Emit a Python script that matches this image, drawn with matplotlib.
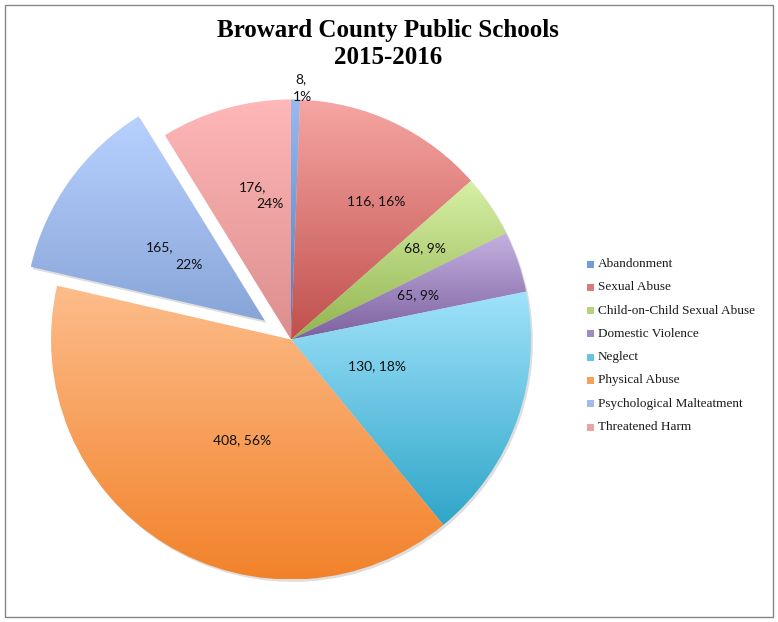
import numpy as np
import matplotlib
matplotlib.use("Agg")
import matplotlib.pyplot as plt
from matplotlib.colors import LinearSegmentedColormap, to_rgb
from matplotlib.patches import Rectangle, Wedge

categories = ["Abandonment", "Sexual Abuse", "Child-on-Child Sexual Abuse",
              "Domestic Violence", "Neglect", "Physical Abuse",
              "Psychological Malteatment", "Threatened Harm"]
counts = [8, 116, 68, 65, 130, 408, 165, 176]
pct_labels = [1, 16, 9, 9, 18, 56, 22, 24]
# the slices in the picture don't follow the label counts, so the drawn
# sizes are read off the picture separately (percent of the circle)
slice_share = [0.6, 12.9, 4.2, 4.1, 17.25, 39.55, 12.6, 8.8]
explode = [0, 0, 0, 0, 0, 0, 0.135, 0]

top_colors = ["#9ab9ee", "#f6a6a3", "#d7f0a6", "#c5b2e0",
              "#a0e2fb", "#fdbd8b", "#b8d1ff", "#ffb7b7"]
bottom_colors = ["#4a7cc0", "#c0504d", "#93b550", "#7d61a0",
                 "#2fa6c8", "#f2822a", "#88a5d8", "#dd8e8e"]

W, H = 778, 622
CX, CY, R = 291, 339.5, 240   # pie centre and radius in pixels
span = 290

fig = plt.figure(figsize=(W / 100, H / 100), dpi=100)
ax = fig.add_axes([(CX - span) / W, (H - CY - span) / H, 2 * span / W, 2 * span / H])

wedges, _ = ax.pie(slice_share, startangle=90, counterclock=False, explode=explode,
                   radius=1, wedgeprops=dict(linewidth=0))

grad = np.linspace(0, 1, 256).reshape(-1, 1)
for w, c0, c1 in zip(wedges, top_colors, bottom_colors):
    x0, y0, x1, y1 = w.get_path().get_extents().extents
    sh = Wedge((w.center[0] + 0.008, w.center[1] - 0.01), w.r, w.theta1, w.theta2,
               facecolor="k", alpha=0.13, lw=0, zorder=0)
    ax.add_patch(sh)
    cmap = LinearSegmentedColormap.from_list("g", [c1, c0])
    im = ax.imshow(grad, cmap=cmap, extent=[x0, x1, y0, y1], origin="lower",
                   aspect="auto", zorder=1, interpolation="bilinear")
    im.set_clip_path(w)
    w.set_facecolor("none")

ax.set_xlim(-span / R, span / R)
ax.set_ylim(-span / R, span / R)
ax.axis("off")


def to_data(px, py):
    return (px - CX) / R, (CY - py) / R


# label placement (pixels), wrapped labels get one spot per line
label_spots = {
    0: [(301, 79), (302, 97)],
    1: [(376, 201)],
    2: [(425, 248)],
    3: [(418, 295)],
    4: [(377, 366)],
    5: [(242, 440)],
    6: [(160, 247), (189, 265)],
    7: [(253, 187), (270, 204)],
}
for i, (n, p) in enumerate(zip(counts, pct_labels)):
    spots = label_spots[i]
    lines = [f"{n}, {p}%"] if len(spots) == 1 else [f"{n},", f"{p}%"]
    for txt, (px, py) in zip(lines, spots):
        x, y = to_data(px, py)
        ax.text(x, y, txt, ha="center", va="center", fontsize=10,
                family="Lato", color="#111111", zorder=5)

fig.text(388 / W, 1 - 30 / H, "Broward County Public Schools",
         ha="center", va="center", fontsize=18, fontweight="bold",
         family="Liberation Serif")
fig.text(388 / W, 1 - 58 / H, "2015-2016",
         ha="center", va="center", fontsize=18, fontweight="bold",
         family="Liberation Serif")

# legend
for i, name in enumerate(categories):
    yc = 264 + i * 23.3
    mid = [(a + b) / 2 for a, b in zip(to_rgb(top_colors[i]), to_rgb(bottom_colors[i]))]
    fig.add_artist(Rectangle((587 / W, 1 - (yc + 3.5) / H), 7 / W, 7 / H,
                             transform=fig.transFigure, facecolor=mid, lw=0))
    fig.text(598 / W, 1 - yc / H, name, ha="left", va="center", fontsize=9.5,
             family="Liberation Serif", color="#1a1a1a")

fig.add_artist(Rectangle((4.5 / W, 1 - 617 / H), (773 - 4.5) / W, (617 - 5) / H,
                         transform=fig.transFigure, fill=False,
                         edgecolor="#868686", lw=1))

fig.savefig("out.png", dpi=100)
